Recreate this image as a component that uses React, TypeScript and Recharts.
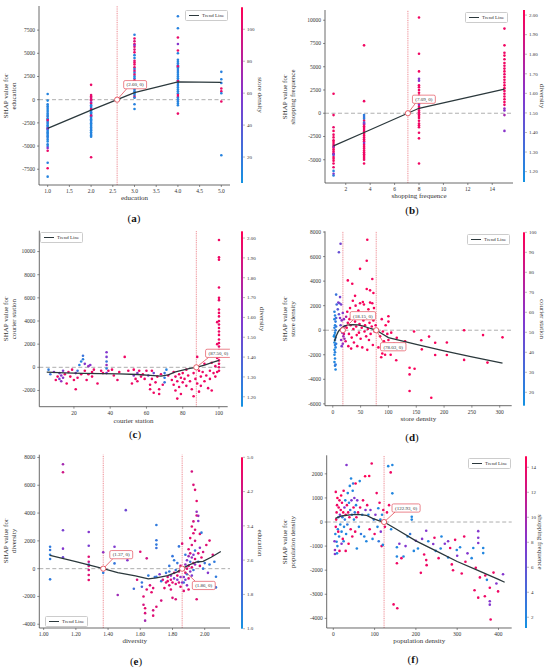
import React from 'react'
import {
  ScatterChart, Scatter, XAxis, YAxis, ReferenceLine, ReferenceDot, ReferenceArea,
} from 'recharts'

// [feature value, SHAP value, colour feature value]
type Pt = [number, number, number]
type XY = [number, number]

const SERIF = '"Liberation Serif", "Times New Roman", serif'
const INK = '#333'
const TREND = '#2b383c'
const RED = '#e4505c'

// ---------- (a) education, coloured by store density ----------
const aPts: Pt[] = [
  [1, 610, 12], [1, -100, 10], [1, -500, 14], [1, -700, 11], [1, -900, 15], [1, -1100, 9], [1, -1300, 13],
  [1, -1500, 12], [1, -1650, 10], [1, -1800, 16], [1, -2000, 11], [1, -2150, 14], [1, -2300, 9], [1, -2450, 12],
  [1, -2600, 15], [1, -2750, 10], [1, -2900, 13], [1, -3050, 11], [1, -3200, 17], [1, -3350, 12], [1, -3500, 10],
  [1, -3650, 14], [1, -3800, 11], [1, -3950, 13], [1, -4100, 16], [1, -4300, 12], [1, -4500, 10], [1, -4800, 14],
  [1, -5000, 11], [1, -5200, 60], [1, -5500, 105], [1, -6800, 15], [1, -7400, 108], [1, -8300, 12], [1, -2200, 100],
  [1, -3100, 60],
  [2, 1600, 105], [2, 500, 100], [2, 350, 108], [2, 200, 95], [2, 50, 102], [2, -100, 98], [2, -300, 60],
  [2, -450, 104], [2, -600, 12], [2, -750, 14], [2, -900, 10], [2, -1050, 13], [2, -1200, 11], [2, -1350, 15],
  [2, -1500, 9], [2, -1650, 12], [2, -1800, 14], [2, -1950, 10], [2, -2100, 13], [2, -2250, 11], [2, -2400, 16],
  [2, -2550, 12], [2, -2700, 10], [2, -2850, 14], [2, -3000, 11], [2, -3150, 13], [2, -3300, 12], [2, -3500, 10],
  [2, -3700, 15], [2, -3850, 11], [2, -4000, 12], [2, -6200, 105], [2, -1000, 100], [2, -1700, 98],
  [3, 7000, 15], [3, 6600, 104], [3, 6300, 100], [3, 6000, 108], [3, 5700, 102], [3, 5400, 98], [3, 5100, 105],
  [3, 4800, 14], [3, 4500, 12], [3, 4200, 100], [3, 4000, 104], [3, 3800, 106], [3, 3500, 102], [3, 3300, 16],
  [3, 3100, 99], [3, 2900, 13], [3, 2700, 101], [3, 2500, 11], [3, 2300, 15], [3, 2100, 103], [3, 1900, 12],
  [3, 1700, 10], [3, 1500, 14], [3, 1300, 100], [3, 1100, 12], [3, 900, 15], [3, 700, 11], [3, 500, 13],
  [3, 300, 106], [3, 200, 12], [3, -500, 14], [3, -1000, 12], [3, 5900, 60],
  [4, 9000, 14], [4, 7700, 13], [4, 6700, 104], [4, 6000, 60], [4, 5300, 105], [4, 5000, 12], [4, 4300, 14],
  [4, 4100, 11], [4, 3900, 15], [4, 3700, 12], [4, 3500, 10], [4, 3300, 13], [4, 3100, 16], [4, 2900, 11],
  [4, 2700, 14], [4, 2500, 12], [4, 2300, 10], [4, 2100, 13], [4, 1900, 15], [4, 1700, 11], [4, 1500, 12],
  [4, 1300, 14], [4, 1100, 10], [4, 900, 13], [4, 700, 12], [4, 500, 104], [4, 300, 100], [4, 200, 15],
  [4, 0, 12], [4, -200, 14], [4, -400, 11], [4, -600, 13], [4, -1500, 105], [4, 2000, 100], [4, 3600, 98],
  [5, 3000, 14], [5, 2200, 13], [5, 1800, 15], [5, 1200, 104], [5, 900, 102], [5, 700, 12], [5, -200, 105],
  [5, -6000, 13],
]
const aTrend: XY[] = [[1, -3100], [2, -1120], [3, 760], [4, 1910], [5, 1870]]
const aXTicks = [1, 1.5, 2, 2.5, 3, 3.5, 4, 4.5, 5]
const aYTicks = [-7500, -5000, -2500, 0, 2500, 5000, 7500]
const aCTicks = [20, 40, 60, 80, 100]

// ---------- (b) shopping frequence, coloured by diversity ----------
const bPts: Pt[] = [
  [1, 2100, 1.98], [1, -200, 1.97], [1, -1500, 1.95], [1, -1900, 1.99], [1, -2300, 1.96], [1, -2600, 1.98],
  [1, -2900, 1.97], [1, -3100, 2.0], [1, -3300, 1.94], [1, -3500, 1.98], [1, -3700, 1.96], [1, -3900, 1.99],
  [1, -4100, 1.97], [1, -4300, 1.95], [1, -4500, 1.25], [1, -4700, 1.98], [1, -4900, 1.96], [1, -5100, 1.99],
  [1, -5400, 1.97], [1, -5800, 1.95], [1, -6200, 1.22], [1, -6500, 1.6], [1, -6700, 1.25], [1, -4400, 1.6],
  [1, -3600, 1.7],
  [3.5, 7300, 1.98], [3.5, 1300, 1.97], [3.5, -200, 1.25], [3.5, -400, 1.3], [3.5, -600, 1.22], [3.5, -800, 1.98],
  [3.5, -1000, 1.28], [3.5, -1200, 1.96], [3.5, -1400, 1.99], [3.5, -1600, 1.97], [3.5, -1800, 1.95],
  [3.5, -2000, 1.98], [3.5, -2200, 1.96], [3.5, -2400, 1.99], [3.5, -2600, 1.97], [3.5, -2800, 1.95],
  [3.5, -3000, 1.98], [3.5, -3200, 1.6], [3.5, -3400, 1.97], [3.5, -3600, 1.99], [3.5, -3800, 1.96],
  [3.5, -4000, 1.98], [3.5, -4200, 1.97], [3.5, -4400, 1.95], [3.5, -4600, 1.99], [3.5, -4800, 1.97],
  [3.5, -5000, 1.96], [3.5, -5400, 1.98], [3.5, -1100, 1.6],
  [8, 10300, 1.98], [8, 6400, 1.97], [8, 4500, 1.99], [8, 3700, 1.6], [8, 3500, 1.55], [8, 3000, 1.97],
  [8, 2800, 1.98], [8, 2500, 1.96], [8, 2200, 1.99], [8, 1900, 1.97], [8, 1700, 1.95], [8, 1500, 1.98],
  [8, 1300, 1.65], [8, 1100, 1.97], [8, 900, 1.6], [8, 700, 1.99], [8, 500, 1.98], [8, 300, 1.96], [8, 100, 1.97],
  [8, -100, 1.95], [8, -300, 1.99], [8, -500, 1.98], [8, -800, 1.97], [8, -1100, 1.96], [8, -1300, 1.98],
  [8, -1500, 1.97], [8, -2100, 1.96], [8, -2700, 1.98], [8, -5400, 1.97],
  [15, 9100, 1.97], [15, 7300, 1.98], [15, 6500, 1.96], [15, 6200, 1.99], [15, 5800, 1.97], [15, 5400, 1.98],
  [15, 5100, 1.96], [15, 4800, 1.97], [15, 4500, 1.99], [15, 4200, 1.95], [15, 3900, 1.98], [15, 3600, 1.97],
  [15, 3300, 1.96], [15, 3000, 1.99], [15, 2700, 1.98], [15, 2400, 1.97], [15, 2100, 1.96], [15, 1800, 1.98],
  [15, 1500, 1.97], [15, 1200, 1.99], [15, 900, 1.96], [15, 500, 1.65], [15, 300, 1.6], [15, -200, 1.7],
  [15, -1900, 1.6],
]
const bTrend: XY[] = [[1, -3500], [3.5, -2070], [8, 535], [15, 2600]]
const bXTicks = [2, 4, 6, 8, 10, 12, 14]
const bYTicks = [-5000, -2500, 0, 2500, 5000, 7500, 10000]
const bCTicks = [1.2, 1.3, 1.4, 1.5, 1.6, 1.7, 1.8, 1.9, 2.0]

// ---------- (c) courier station, coloured by diversity ----------
const cPts: Pt[] = [
  [6, -200, 1.25], [7, -600, 1.3], [9, -400, 1.6], [10, -1100, 1.97], [11, -800, 1.98], [12, -500, 1.6],
  [12, -1000, 1.55], [13, -700, 1.6], [13, -1200, 1.65], [14, -300, 1.58], [14, -900, 1.62], [15, -600, 1.97],
  [16, -1400, 1.98], [17, -400, 1.96], [18, -800, 1.99], [19, -200, 1.97], [20, -1100, 1.98], [21, -1900, 1.97],
  [21, -500, 1.6], [22, -300, 1.3], [22, -900, 1.95], [23, 200, 1.25], [24, 500, 1.22], [24, -600, 1.97],
  [25, 700, 1.25], [25, 1000, 1.3], [26, -300, 1.98], [26, 300, 1.6], [27, -1100, 1.97], [28, 100, 1.65],
  [28, -600, 1.98], [29, 200, 1.6], [30, -400, 1.99], [30, -800, 1.97], [31, -200, 1.96], [33, -1400, 1.98],
  [35, -300, 1.97], [36, -500, 1.99], [38, 1300, 1.6], [38, 900, 1.55], [38, 500, 1.3], [38, 200, 1.65],
  [38, -100, 1.25], [38, -500, 1.6], [39, -300, 1.97], [41, -200, 1.98], [42, -700, 1.97], [44, -1100, 1.96],
  [45, -400, 1.99], [48, 900, 1.98], [50, -300, 1.97], [52, -1400, 1.98], [53, -200, 1.99], [53, -700, 1.6],
  [54, -1000, 1.97], [55, -500, 1.62], [55, -1200, 1.96], [56, -300, 1.98], [57, -800, 1.97], [58, -600, 1.99],
  [59, -1000, 1.98], [60, -300, 1.96], [61, -700, 1.6], [62, -1500, 1.97], [62, -1900, 1.98], [63, -300, 1.99],
  [63, -1000, 1.97], [64, -2200, 1.98], [64, -500, 1.5], [65, -1300, 1.96], [66, -800, 1.99], [67, -1900, 1.97],
  [67, -2300, 1.98], [68, -600, 1.97], [69, -1500, 1.96], [70, -500, 1.28], [70, -900, 1.25], [70, -1300, 1.3],
  [71, -200, 1.22], [72, -700, 1.97], [74, -1100, 1.98], [75, -400, 1.97], [75, -1500, 1.99], [76, -800, 1.96],
  [76, -2000, 1.98], [77, -1200, 1.97], [77, -2700, 1.98], [78, -600, 1.99], [78, -1700, 1.97], [79, -900, 1.96],
  [79, -2300, 1.98], [80, -1300, 1.97], [80, -500, 1.99], [81, -1000, 1.98], [82, -200, 1.97], [82, -1600, 1.96],
  [83, -700, 1.99], [84, -1200, 1.97], [85, -1900, 1.98], [86, -500, 1.97], [86, -2500, 1.99], [87, -1000, 1.96],
  [88, -1400, 1.98], [88, 900, 1.97], [89, -300, 1.99], [89, -2100, 1.97], [90, -800, 1.98], [90, -1600, 1.96],
  [91, -400, 1.97], [92, 300, 1.98], [92, -1200, 1.99], [93, -700, 1.97], [94, -1800, 1.96], [95, -300, 1.98],
  [95, -1000, 1.97], [96, 400, 1.99], [96, -2000, 1.98], [97, -500, 1.97], [98, 100, 1.96], [98, -800, 1.99],
  [100, 11000, 1.98], [100, 9500, 1.97], [100, 9300, 1.99], [100, 6900, 1.97], [100, 6000, 1.98],
  [100, 5800, 1.96], [100, 5000, 1.97], [100, 4700, 1.99], [100, 4400, 1.98], [100, 4000, 1.97],
  [100, 3700, 1.96], [100, 3400, 1.98], [100, 3100, 1.97], [100, 2800, 1.99], [100, 2400, 1.98],
  [100, 2100, 1.97], [100, 1800, 1.96], [100, 1500, 1.98], [100, 1200, 1.97], [100, 900, 1.99], [100, 600, 1.98],
  [100, 300, 1.97], [100, 0, 1.96], [100, -300, 1.98], [99, 3900, 1.97], [99, 2000, 1.98], [99, 800, 1.97],
  [99, -400, 1.99],
]
const cTrend: XY[] = [
  [5, -420], [15, -480], [25, -520], [35, -540], [45, -560], [55, -620], [62, -700], [68, -760], [72, -650],
  [76, -400], [80, -250], [84, -100], [87.5, 0], [92, 200], [96, 400], [100, 600],
]
const cXTicks = [20, 40, 60, 80, 100]
const cYTicks = [-2000, 0, 2000, 4000, 6000, 8000, 10000]
const cCTicks = [1.2, 1.3, 1.4, 1.5, 1.6, 1.7, 1.8, 1.9, 2.0]

// ---------- (d) store density, coloured by courier station ----------
const dPts: Pt[] = [
  [3, 1500, 22], [4, 1200, 20], [3, 900, 18], [5, 700, 24], [4, 400, 19], [3, 200, 21], [5, 0, 23], [4, -200, 18],
  [3, -400, 20], [5, -600, 22], [4, -800, 19], [3, -1000, 17], [4, -1200, 21], [5, -1400, 20], [3, -1600, 18],
  [4, -1800, 22], [3, -2000, 19], [4, -2300, 20], [3, -2600, 18], [4, -2900, 21], [5, -3200, 19], [5, -2800, 25],
  [6, -1100, 24], [6, 300, 26], [2, -500, 16], [6, 2900, 28], [7, 2100, 30], [6, 1000, 35],
  [14, 7040, 50], [11, 6350, 45], [13, 2700, 50], [10, 2250, 55], [12, 2200, 48], [15, 2100, 52], [9, 1700, 40],
  [11, 1300, 45], [13, 1000, 58], [16, 800, 60], [18, 1400, 55], [20, 900, 62], [14, 400, 50], [17, -200, 58],
  [19, -500, 65], [15, -800, 60], [21, -700, 68], [18, -1100, 62], [16, -1300, 55], [22, 300, 70], [24, 1100, 75],
  [20, -300, 85], [23, -900, 90],
  [25, 200, 98], [27, 600, 95], [29, -300, 97], [30, 900, 99], [32, 400, 96], [34, -600, 98], [35, 1200, 97],
  [37, 100, 99], [38, -1000, 95], [40, 700, 98], [42, 300, 96], [43, -400, 99], [45, 1000, 97], [47, -200, 98],
  [48, 500, 95], [50, -700, 97], [52, 200, 99], [53, -1400, 96], [55, 800, 98], [57, -100, 97], [58, 400, 99],
  [60, -500, 95], [61, 1100, 98], [63, 100, 96], [65, -800, 97], [66, 600, 99], [68, -300, 98], [70, 300, 96],
  [72, -1200, 97], [73, 800, 99], [75, -100, 98], [77, 400, 95], [28, -1300, 98], [33, -1500, 96],
  [44, -1300, 97], [62, -1600, 99], [26, 1500, 97], [31, 1800, 99], [41, 2000, 96], [46, 1600, 98],
  [56, 2100, 97], [64, 1700, 99], [71, 2200, 96], [74, 1800, 98], [36, 2400, 97], [54, 2300, 99], [67, 2250, 96],
  [49, 2200, 95],
  [62, 7370, 98], [61, 5660, 97], [49, 5000, 99], [71, 4170, 96], [27, 4060, 98], [35, 3790, 97], [61, 3360, 99],
  [67, 3250, 96], [73, 3030, 98], [40, 2800, 97],
  [100, 1140, 98], [100, 700, 97], [95, 400, 99], [88, 900, 96], [90, -100, 98], [85, -500, 97], [92, -900, 99],
  [98, -300, 96], [105, -200, 98], [115, -620, 97], [89, -1900, 99], [94, -2000, 96], [104, -2000, 98],
  [114, -2450, 97], [82, -1400, 98], [87, -2200, 97], [138, -3060, 99], [138, -3600, 96], [147, -3140, 98],
  [138, -4950, 97], [177, -5500, 99], [146, -100, 98], [159, -820, 96], [173, -520, 97], [160, -1560, 99],
  [184, -1020, 98], [184, -2020, 96], [205, -1000, 97], [205, -2020, 99], [236, 0, 98], [236, -2420, 96],
  [270, -400, 97], [278, -2640, 99], [305, -580, 98], [122, -1300, 97], [130, -900, 98], [110, -1100, 99],
  [100, -800, 96],
]
const dTrend: XY[] = [
  [3, -900], [6, -500], [10, -100], [15, 150], [20, 330], [28, 430], [36, 460], [45, 430], [55, 330], [65, 180],
  [72, 80], [78, 0], [90, -330], [100, -600], [150, -1150], [200, -1680], [250, -2170], [305, -2680],
]
const dXTicks = [0, 50, 100, 150, 200, 250, 300]
const dYTicks = [-6000, -4000, -2000, 0, 2000, 4000, 6000, 8000]
const dCTicks = [20, 30, 40, 50, 60, 70, 80, 90, 100]

// ---------- (e) diversity, coloured by education ----------
const ePts: Pt[] = [
  [1.04, 1580, 1.5], [1.04, 1340, 1.6], [1.04, 1000, 1.4], [1.04, 700, 1.5], [1.04, -770, 1.5],
  [1.12, 7510, 3.5], [1.12, 6940, 4.2], [1.12, 2760, 2.8], [1.12, 1440, 3.0], [1.12, 820, 2.6],
  [1.28, 2640, 3.0], [1.28, 1650, 2.8], [1.28, 860, 4.5], [1.28, 500, 4.2], [1.28, 190, 4.5], [1.28, -100, 4.3],
  [1.28, -460, 4.5], [1.28, -820, 4.6], [1.28, 300, 1.6], [1.37, 1180, 3.2], [1.37, -300, 1.5],
  [1.44, 1580, 2.9], [1.44, 380, 1.6], [1.46, -1900, 3.4], [1.51, 4210, 2.6], [1.52, 600, 3.0],
  [1.56, -1450, 1.8], [1.58, -800, 4.4],
  [1.6, 1220, 4.5], [1.61, -1000, 1.6], [1.61, -1300, 2.0], [1.62, -2000, 4.5], [1.62, -2600, 4.3],
  [1.63, -2850, 4.6], [1.63, -3200, 4.4], [1.63, -3740, 3.5], [1.64, -1500, 4.5], [1.64, 740, 4.2],
  [1.65, -500, 1.5], [1.66, -1200, 4.4], [1.67, -1700, 4.6], [1.68, -3000, 4.3], [1.68, -3380, 4.5],
  [1.68, -1400, 4.5], [1.69, -600, 1.6], [1.7, 3140, 1.5], [1.7, 2040, 1.6], [1.7, 1730, 1.5], [1.7, 1490, 1.7],
  [1.7, -580, 1.6], [1.7, -2740, 4.5], [1.72, -400, 3.0], [1.73, -900, 1.6],
  [1.76, -300, 1.6], [1.77, -600, 4.4], [1.77, -900, 4.6], [1.78, -1200, 4.3], [1.78, -200, 1.5],
  [1.79, -500, 3.2], [1.79, -800, 4.5], [1.8, -1000, 4.6], [1.8, 900, 1.6], [1.8, -2100, 4.4], [1.81, -300, 4.5],
  [1.81, -700, 3.0], [1.82, -1100, 4.5], [1.82, -100, 1.7], [1.82, -2200, 4.4], [1.83, -500, 4.6],
  [1.83, -800, 2.9], [1.83, 400, 1.6], [1.84, -200, 4.5], [1.84, -1000, 4.3], [1.85, -600, 3.2], [1.85, 200, 4.4],
  [1.85, -1300, 4.6], [1.79, -1500, 4.5], [1.76, -1000, 4.5], [1.78, 200, 1.6], [1.81, 600, 1.5],
  [1.84, 1600, 1.6], [1.86, 1800, 4.5], [1.74, -800, 4.4], [1.75, -1400, 4.6], [1.73, -2300, 4.3],
  [1.87, -600, 3.0], [1.87, -1000, 1.6], [1.87, -1600, 4.5], [1.88, -300, 4.4], [1.88, 300, 3.2],
  [1.88, -800, 2.8], [1.89, 0, 4.5], [1.89, 600, 3.0], [1.89, -400, 1.6], [1.89, -1200, 3.2], [1.9, 200, 4.6],
  [1.9, 900, 3.4], [1.9, -700, 4.4], [1.9, 1400, 4.5], [1.91, -200, 3.1], [1.91, 500, 1.6], [1.91, 1100, 4.3],
  [1.91, 2200, 4.6], [1.92, -500, 2.9], [1.92, 100, 4.5], [1.92, 800, 3.3], [1.92, 1700, 4.4],
  [1.92, 3030, 4.5], [1.92, 6990, 4.3], [1.93, -100, 1.6], [1.93, 400, 4.6], [1.93, 1000, 3.0],
  [1.93, 2550, 4.5], [1.93, 6030, 4.4], [1.94, 300, 3.2], [1.94, 700, 4.5], [1.94, 1300, 1.7], [1.94, 2000, 4.3],
  [1.94, 5670, 4.5], [1.95, 4870, 4.6], [1.95, 4100, 3.2], [1.95, 3820, 4.4], [1.96, 1100, 4.5],
  [1.96, 500, 1.6], [1.96, 3430, 3.0], [1.97, 200, 4.4], [1.97, 1500, 3.2], [1.97, 2500, 4.5], [1.98, 2590, 1.5],
  [1.98, 800, 4.6], [1.99, 0, 1.6], [1.99, 1200, 4.3], [2.0, 400, 1.7], [2.01, 1700, 4.5], [2.02, -300, 3.0],
  [2.03, 2020, 4.5], [2.03, 300, 1.6], [2.05, 1000, 4.4], [2.07, -580, 1.5], [2.07, -1350, 1.6],
  [2.06, 500, 1.5], [1.95, -2200, 4.5], [1.9, -1500, 4.6], [1.86, -1000, 3.1], [1.88, 1000, 1.6],
  [1.93, 3400, 4.3], [1.96, 3800, 3.3], [1.94, 2800, 4.4],
]
const eTrend: XY[] = [
  [1.04, 960], [1.2, 500], [1.37, 0], [1.46, -290], [1.57, -525], [1.65, -740], [1.7, -670], [1.77, -500],
  [1.83, -230], [1.86, 0], [1.9, 250], [1.95, 480], [1.99, 520], [2.04, 820], [2.1, 1230],
]
const eXTicks = [1.0, 1.2, 1.4, 1.6, 1.8, 2.0]
const eYTicks = [-4000, -2000, 0, 2000, 4000, 6000, 8000]
const eCTicks = [1.0, 1.8, 2.6, 3.4, 4.2, 5.0]

// ---------- (f) population density, coloured by shopping frequence ----------
const fPts: Pt[] = [
  [4, -1330, 8], [4, -1160, 9], [8, -820, 2], [5, -500, 2], [6, -200, 14], [7, 100, 15], [8, 400, 14],
  [9, 700, 14], [10, 1000, 15], [6, 1250, 14], [11, -300, 2], [12, 200, 3], [13, 600, 14], [14, -600, 2],
  [15, 900, 14], [16, 300, 8], [17, -100, 2], [18, 500, 14], [19, 1100, 15], [20, -400, 2], [21, 800, 14],
  [22, 200, 3], [23, -700, 14], [24, 400, 15], [25, 1300, 14], [26, -200, 2], [27, 600, 8], [28, 100, 3],
  [29, 900, 2], [30, 300, 14], [31, -500, 2], [32, 2370, 8], [33, 700, 14], [34, -100, 3], [35, 1200, 2],
  [36, 400, 14], [37, -900, 15], [38, 800, 2], [39, 200, 14], [40, 1500, 2], [41, 500, 3], [42, -300, 14],
  [43, 1810, 2], [44, 900, 8], [45, 300, 2], [46, -600, 14], [47, 1300, 2], [48, 1600, 3], [49, 600, 14],
  [50, 100, 2], [51, 1000, 8], [52, 400, 3], [53, -400, 14], [54, 1600, 15], [55, 700, 2], [56, 200, 14],
  [57, -1100, 2], [58, 900, 8], [60, 400, 14], [62, -200, 2], [64, 1700, 2], [65, 600, 14], [67, -500, 3],
  [70, 300, 2], [72, 900, 14], [75, -600, 2], [77, 1900, 15], [78, 500, 8], [80, -800, 2], [82, 700, 14],
  [85, 300, 2], [87, 1910, 15], [88, -300, 14], [90, 500, 8], [93, 2430, 14], [95, -700, 2], [98, 100, 3],
  [100, -500, 14], [102, 300, 8], [105, 1200, 14], [107, -200, 2], [109, 570, 2], [110, -800, 3],
  [112, 800, 14], [114, 100, 2], [115, -400, 8], [117, -1000, 14], [118, 300, 2], [120, -950, 2],
  [121, 500, 14], [125, -200, 14], [130, 400, 14], [133, 2320, 2], [139, 2060, 14], [143, 2370, 2],
  [143, 1190, 2], [135, 700, 14], [140, -300, 2],
  [3, -800, 8], [10, -1000, 2], [15, -1200, 14], [20, -900, 8], [12, -400, 14], [9, -1300, 2], [30, -1200, 14],
  [25, -800, 2],
  [146, -3420, 14], [155, -3580, 14], [154, -1050, 2], [154, -1430, 2], [154, -1710, 14], [170, -1430, 2],
  [175, -1000, 8], [186, -500, 3], [190, 220, 2], [190, 100, 2], [200, -780, 8], [205, -1100, 2],
  [212, -2110, 14], [220, -1350, 14], [225, -1580, 14], [226, -1790, 14], [225, -360, 8], [230, -800, 2],
  [242, -915, 8], [248, -1200, 2], [255, -1500, 14], [262, -600, 2], [270, -900, 8], [278, -800, 8],
  [283, -1080, 14], [278, -1470, 2], [287, -1760, 14], [290, -2000, 14], [295, -740, 14], [299, -1160, 2],
  [307, -1050, 2], [311, -2140, 14], [317, -600, 14], [325, -1300, 8], [339, -1080, 2], [342, -2830, 14],
  [345, -1900, 14], [351, -380, 8], [351, -650, 8], [351, -870, 8], [351, -3140, 14], [363, -1080, 2],
  [363, -1290, 2], [367, -3080, 14], [368, -2220, 14], [379, -2730, 14], [379, -3290, 8], [379, -3430, 8],
  [381, -4050, 14], [399, -2880, 14], [411, -2170, 8], [372, -2400, 2], [388, -2100, 14], [260, -1100, 2],
  [245, -650, 14], [215, -700, 8], [195, -1200, 2], [165, -1500, 14], [160, -900, 8], [180, -600, 2],
  [300, -1400, 8], [320, -1650, 14], [335, -1500, 2], [355, -2300, 14], [395, -2550, 8],
]
const fTrend: XY[] = [
  [5, 150], [20, 250], [40, 300], [60, 320], [80, 280], [95, 150], [110, 60], [122.93, 0], [150, -270],
  [200, -780], [250, -1210], [300, -1640], [350, -2010], [400, -2380], [415, -2500],
]
const fXTicks = [0, 100, 200, 300, 400]
const fYTicks = [-4000, -3000, -2000, -1000, 0, 1000, 2000]
const fCTicks = [2, 4, 6, 8, 10, 12, 14]

// shap-like red/blue colormap
const CM = [[20, 146, 226], [132, 54, 206], [255, 0, 84]]
function cmap(t: number) {
  const u = Math.min(1, Math.max(0, t))
  const [a, b, k] = u < 0.5 ? [CM[0], CM[1], u * 2] : [CM[1], CM[2], (u - 0.5) * 2]
  return `rgb(${a.map((v, i) => Math.round(v + (b[i] - v) * k)).join(',')})`
}

interface Note { x: number; dx: number; dy: number; text: string }

interface Spec {
  tag: string
  left: number
  top: number
  plot: [number, number, number, number]   // left, top, right, bottom
  xDomain: [number, number]
  yDomain: [number, number]
  xTicks: number[]
  yTicks: number[]
  xDec: number
  points: Pt[]
  trend: XY[]
  vlines: number[]
  notes: Note[]
  cDomain: [number, number]
  cTicks: number[]
  cDec: number
  cbar: [number, number, number]           // x, top, bottom
  xLabel: string
  yLabel: string
  cLabel: string
  legend: { left: number; top: number }
  ylabX: number
  clabX: number
  xlabY: number
  tagPos: [number, number]
}

const panels: Spec[] = [
  {
    tag: 'a', left: 0, top: 0, plot: [39, 6, 230, 185], xDomain: [0.8, 5.2], yDomain: [-9200, 10100],
    xTicks: aXTicks, yTicks: aYTicks, xDec: 1, points: aPts, trend: aTrend, vlines: [2.6],
    notes: [{ x: 2.6, dx: 18, dy: -15, text: '(2.60, 0)' }],
    cDomain: [3.75, 113.75], cTicks: aCTicks, cDec: 0, cbar: [240.5, 7.3, 183],
    xLabel: 'education', yLabel: 'education', cLabel: 'store density',
    legend: { left: 185, top: 10 }, ylabX: 10, clabX: 260, xlabY: 198, tagPos: [134, 218],
  },
  {
    tag: 'b', left: 275, top: 0, plot: [50, 10, 238, 183], xDomain: [0.3, 15.7], yDomain: [-7500, 11100],
    xTicks: bXTicks, yTicks: bYTicks, xDec: 0, points: bPts, trend: bTrend, vlines: [7.09],
    notes: [{ x: 7.09, dx: 16, dy: -14, text: '(7.09, 0)' }],
    cDomain: [1.147, 2.026], cTicks: bCTicks, cDec: 2, cbar: [248.3, 10, 182],
    xLabel: 'shopping frequence', yLabel: 'shopping frequence', cLabel: 'diversity',
    legend: { left: 190, top: 12 }, ylabX: 13.5, clabX: 267, xlabY: 196, tagPos: [137, 210],
  },
  {
    tag: 'c', left: 0, top: 224, plot: [39.3, 6.7, 227.7, 182.7], xDomain: [0.9, 104.8], yDomain: [-3400, 11800],
    xTicks: cXTicks, yTicks: cYTicks, xDec: 0, points: cPts, trend: cTrend, vlines: [87.5],
    notes: [{ x: 87.5, dx: 22, dy: -14, text: '(87.50, 0)' }],
    cDomain: [1.15, 2.034], cTicks: cCTicks, cDec: 2, cbar: [240.5, 7.3, 182.7],
    xLabel: 'courier station', yLabel: 'courier station', cLabel: 'diversity',
    legend: { left: 40, top: 8 }, ylabX: 10, clabX: 262, xlabY: 197, tagPos: [135, 210],
  },
  {
    tag: 'd', left: 275, top: 224, plot: [50, 7.3, 236.7, 181.7], xDomain: [-14, 321.5], yDomain: [-6150, 8060],
    xTicks: dXTicks, yTicks: dYTicks, xDec: 0, points: dPts, trend: dTrend, vlines: [18.15, 78.03],
    notes: [
      { x: 18.15, dx: 20, dy: -14.5, text: '(18.15, 0)' },
      { x: 78.03, dx: 17, dy: 16.5, text: '(78.03, 0)' },
    ],
    cDomain: [13.3, 100], cTicks: dCTicks, cDec: 0, cbar: [248.3, 8.3, 181.7],
    xLabel: 'store density', yLabel: 'store density', cLabel: 'courier station',
    legend: { left: 192, top: 10 }, ylabX: 13.5, clabX: 266.7, xlabY: 195, tagPos: [137, 213],
  },
  {
    tag: 'e', left: 0, top: 448, plot: [39.3, 6.7, 230, 180], xDomain: [0.973, 2.157], yDomain: [-4270, 8200],
    xTicks: eXTicks, yTicks: eYTicks, xDec: 2, points: ePts, trend: eTrend, vlines: [1.37, 1.86],
    notes: [
      { x: 1.37, dx: 18, dy: -14, text: '(1.37, 0)' },
      { x: 1.86, dx: 21.6, dy: 16.8, text: '(1.86, 0)' },
    ],
    cDomain: [1, 5], cTicks: eCTicks, cDec: 1, cbar: [240.5, 9.3, 180.7],
    xLabel: 'diversity', yLabel: 'diversity', cLabel: 'education',
    legend: { left: 45, top: 168 }, ylabX: 10, clabX: 260, xlabY: 193, tagPos: [136, 213],
  },
  {
    tag: 'f', left: 275, top: 448, plot: [51.7, 7.3, 236.7, 180], xDomain: [-16, 432], yDomain: [-4400, 2770],
    xTicks: fXTicks, yTicks: fYTicks, xDec: 0, points: fPts, trend: fTrend, vlines: [122.93],
    notes: [{ x: 122.93, dx: 22, dy: -14, text: '(122.93, 0)' }],
    cDomain: [1.14, 14.88], cTicks: fCTicks, cDec: 0, cbar: [250, 8.3, 180],
    xLabel: 'population density', yLabel: 'population density', cLabel: 'shopping frequence',
    legend: { left: 193, top: 10 }, ylabX: 13.5, clabX: 265, xlabY: 193, tagPos: [138, 211],
  },
]

const tickStyle = { fontSize: 5.5, fill: INK, fontFamily: SERIF }
const axisLine = { stroke: '#444', strokeWidth: 0.8 }
const tickLine = { stroke: '#444', strokeWidth: 0.6 }

function noteShape(n: Note) {
  return (p: any) => {
    const w = n.text.length * 2.6 - 0.5
    const h = 8.2
    const bx = p.cx + n.dx - w / 2
    const by = p.cy + n.dy - h / 2
    return (
      <g>
        <line x1={p.cx} y1={p.cy} x2={bx + 3} y2={n.dy < 0 ? by + h : by} stroke={RED} strokeWidth={0.8} />
        <circle cx={p.cx} cy={p.cy} r={2.6} fill="#fff" stroke={RED} strokeWidth={0.9} />
        <rect x={bx} y={by} width={w} height={h} rx={1.5} fill="#fff" stroke={RED} strokeWidth={0.7} />
        <text x={p.cx + n.dx} y={p.cy + n.dy + 1.8} textAnchor="middle" fontSize={5} fontFamily={SERIF} fill={INK}>
          {n.text}
        </text>
      </g>
    )
  }
}

function Legend({ left, top }: { left: number; top: number }) {
  return (
    <div style={{
      position: 'absolute', left, top, display: 'flex', alignItems: 'center', gap: 3,
      border: '0.5px solid #ccc', borderRadius: 1.5, background: '#fff', padding: '1.5px 3px',
      fontSize: 5, lineHeight: '6px', color: INK, whiteSpace: 'nowrap',
    }}>
      <span style={{ display: 'inline-block', width: 10, height: 1.3, background: TREND }} />
      <span>Trend Line</span>
    </div>
  )
}

function Panel({ s }: { s: Spec }) {
  const [pl, pt, pr, pb] = s.plot
  const [lo, hi] = s.cDomain
  const data = s.points.map(([x, y, c]) => ({ x, y, c }))
  const trend = s.trend.map(([x, y]) => ({ x, y }))
  const midY = (pt + pb) / 2
  const [cbX, cbTop, cbBottom] = s.cbar

  return (
    <div style={{ position: 'absolute', left: s.left, top: s.top, width: 275, height: 224, fontFamily: SERIF }}>
      <div style={{ position: 'absolute', left: 0, top: 0 }}>
        <ScatterChart width={pr + 2} height={pb + 20} margin={{ top: pt, right: 2, bottom: 0, left: 0 }}>
          <XAxis
            type="number" dataKey="x" domain={s.xDomain} ticks={s.xTicks} allowDataOverflow interval={0}
            height={20} tickSize={2} tick={tickStyle} axisLine={axisLine} tickLine={tickLine}
            tickFormatter={(v: number) => v.toFixed(s.xDec)}
          />
          <YAxis
            type="number" dataKey="y" domain={s.yDomain} ticks={s.yTicks} allowDataOverflow interval={0}
            width={pl} tickSize={2} tick={tickStyle} axisLine={axisLine} tickLine={tickLine}
            tickFormatter={(v: number) => String(v)}
          />
          <Scatter
            data={data} isAnimationActive={false}
            shape={(p: any) => (
              <circle cx={p.cx} cy={p.cy} r={1.3} fill={cmap(((p.payload?.c ?? p.c) - lo) / (hi - lo))} />
            )}
          />
          <ReferenceLine y={0} stroke="#999" strokeWidth={0.8} strokeDasharray="4 2.5" />
          {s.vlines.map((v) => (
            <ReferenceLine key={v} x={v} stroke={RED} strokeOpacity={0.75} strokeWidth={0.9} strokeDasharray="1 0.8" />
          ))}
          <Scatter
            data={trend} isAnimationActive={false} line={{ stroke: TREND, strokeWidth: 1.3 }}
            shape={() => <g />}
          />
          {s.notes.map((n) => (
            <ReferenceDot key={n.x} x={n.x} y={0} r={2.6} ifOverflow="visible" shape={noteShape(n)} />
          ))}
        </ScatterChart>
      </div>

      {/* colour bar */}
      <div style={{ position: 'absolute', left: cbX, top: 0 }}>
        <ScatterChart width={28} height={cbBottom + 4} margin={{ top: cbTop, right: 2, bottom: 4, left: 0 }}>
          <XAxis type="number" dataKey="x" domain={[0, 1]} hide height={0} />
          <YAxis
            type="number" dataKey="y" orientation="right" domain={s.cDomain} ticks={s.cTicks} allowDataOverflow
            interval={0} width={24} axisLine={false} tickSize={2} tickLine={{ stroke: '#777', strokeWidth: 0.5 }}
            tick={{ fontSize: 5, fill: INK, fontFamily: SERIF }}
            tickFormatter={(v: number) => v.toFixed(s.cDec)}
          />
          <ReferenceArea x1={0} x2={1} y1={lo} y2={hi} fill="url(#shapcmap)" fillOpacity={1} stroke="none" ifOverflow="visible" />
          <Scatter data={[{ x: 0, y: lo }, { x: 1, y: hi }]} isAnimationActive={false} shape={() => <g />} />
        </ScatterChart>
      </div>

      <Legend left={s.legend.left} top={s.legend.top} />

      <div style={{
        position: 'absolute', left: s.ylabX, top: midY, transform: 'translate(-50%, -50%) rotate(-90deg)',
        fontSize: 7, lineHeight: '7.5px', textAlign: 'center', whiteSpace: 'nowrap', color: INK,
      }}>
        SHAP value for<br />{s.yLabel}
      </div>
      <div style={{
        position: 'absolute', left: (pl + pr) / 2, top: s.xlabY, transform: 'translate(-50%, -50%)',
        fontSize: 7, whiteSpace: 'nowrap', color: INK,
      }}>
        {s.xLabel}
      </div>
      <div style={{
        position: 'absolute', left: s.clabX, top: (cbTop + cbBottom) / 2,
        transform: 'translate(-50%, -50%) rotate(90deg)', fontSize: 7, whiteSpace: 'nowrap', color: INK,
      }}>
        {s.cLabel}
      </div>
      <div style={{
        position: 'absolute', left: s.tagPos[0], top: s.tagPos[1], transform: 'translate(-50%, -50%)',
        fontSize: 11, whiteSpace: 'nowrap', color: '#111',
      }}>
        (<b>{s.tag}</b>)
      </div>
    </div>
  )
}

export default function App() {
  return (
    <div style={{ position: 'absolute', left: 0, top: 0, width: 550, height: 672, background: '#fff', overflow: 'hidden' }}>
      <svg width={0} height={0} style={{ position: 'absolute' }}>
        <defs>
          <linearGradient id="shapcmap" x1="0" y1="1" x2="0" y2="0">
            <stop offset="0%" stopColor={cmap(0)} />
            <stop offset="50%" stopColor={cmap(0.5)} />
            <stop offset="100%" stopColor={cmap(1)} />
          </linearGradient>
        </defs>
      </svg>
      {panels.map((s) => <Panel key={s.tag} s={s} />)}
    </div>
  )
}
